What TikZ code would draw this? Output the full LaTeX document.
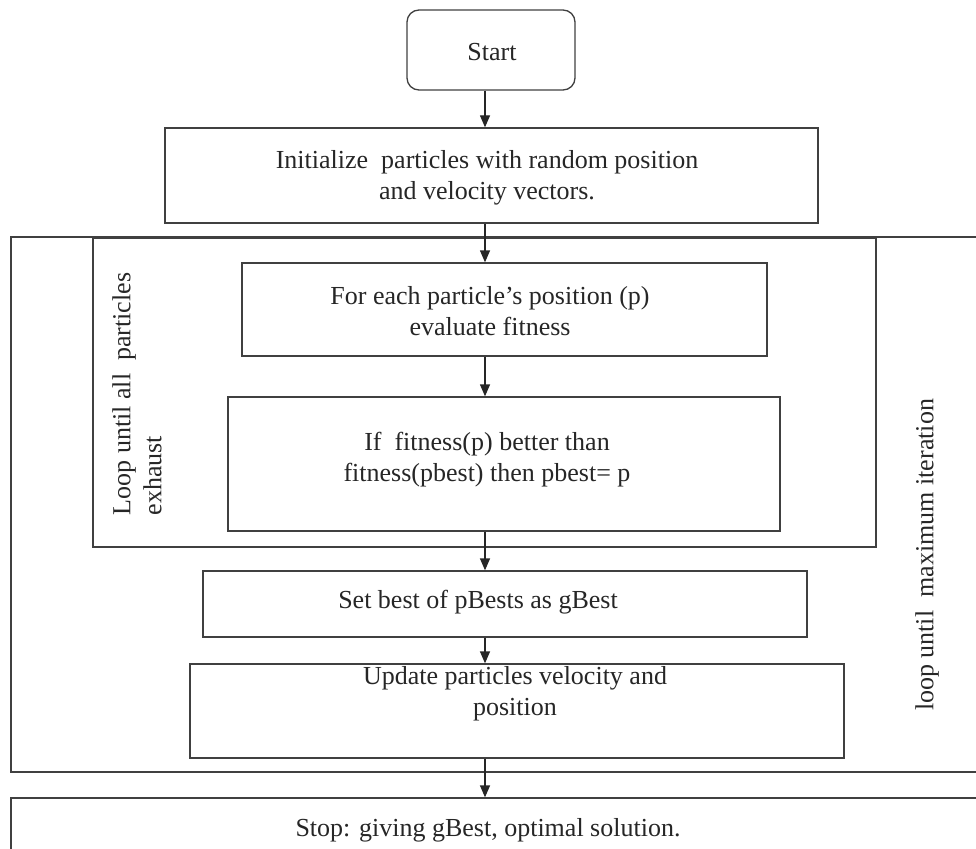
\documentclass[tikz,border=0pt]{standalone}
\usepackage{fontspec}
\setmainfont{Liberation Serif}
\usetikzlibrary{arrows.meta}
\begin{document}
\begin{tikzpicture}[x=1pt,y=-1pt,
  box/.style={draw=black!75, line width=1.3pt, inner sep=0pt, anchor=center},
  txt/.style={font=\fontsize{26}{31}\selectfont, align=center, text=black!85, inner sep=0pt},
  arr/.style={draw=black!85, line width=1.3pt, -{Triangle[length=12pt,width=10pt]}},
]
\useasboundingbox (0,0) rectangle (976,848);
\clip (0,0) rectangle (976,848);
\coordinate (ax) at (485,0);
% boxes
\node[box, rounded corners=12pt, minimum width=168pt, minimum height=80pt] (start) at (491,50) {};
\node[box, minimum width=653pt, minimum height=95pt] (init) at (491.5,175.5) {};
\node[box, minimum width=979pt, minimum height=535pt] (outer) at (500.5,504.5) {};
\node[box, minimum width=783pt, minimum height=309pt] (inner) at (484.5,392.5) {};
\node[box, minimum width=525pt, minimum height=93pt] (foreach) at (504.5,309.5) {};
\node[box, minimum width=552pt, minimum height=134pt] (ifbox) at (504,464) {};
\node[box, minimum width=604pt, minimum height=66pt] (setbox) at (505,604) {};
\node[box, minimum width=654pt, minimum height=94pt] (update) at (517,711) {};
\node[box, minimum width=979pt, minimum height=62pt] (stop) at (500.5,829) {};
% texts
\node[txt] (tstart) at (492,52) {Start};
\node[txt] (tinit) at (487,178) {Initialize\ \ particles with random position\\and velocity vectors.};
\node[txt] (tfor) at (490,311) {For each particle’s position (p)\\evaluate fitness};
\node[txt] (tif) at (487,460) {If\ \ fitness(p) better than\\fitness(pbest) then pbest= p};
\node[txt] (tset) at (478,602) {Set best of pBests as gBest};
\node[txt] (tupd) at (515,694) {Update particles velocity and\\position};
\node[txt] (tstop) at (488,830) {Stop: giving gBest, optimal solution.};
\node[txt, rotate=90, align=left] (tloop1) at (137,394) {Loop until all\ \ particles\\exhaust};
\node[txt, rotate=90] (tloop2) at (927,555) {loop until\ \ maximum iteration};
% arrows
\draw[arr] (start.south -| ax) -- (init.north -| ax);
\draw[arr] (init.south -| ax) -- (foreach.north -| ax);
\draw[arr] (foreach.south -| ax) -- (ifbox.north -| ax);
\draw[arr] (ifbox.south -| ax) -- (setbox.north -| ax);
\draw[arr] (setbox.south -| ax) -- (update.north -| ax);
\draw[arr] (update.south -| ax) -- (stop.north -| ax);
\end{tikzpicture}
\end{document}
